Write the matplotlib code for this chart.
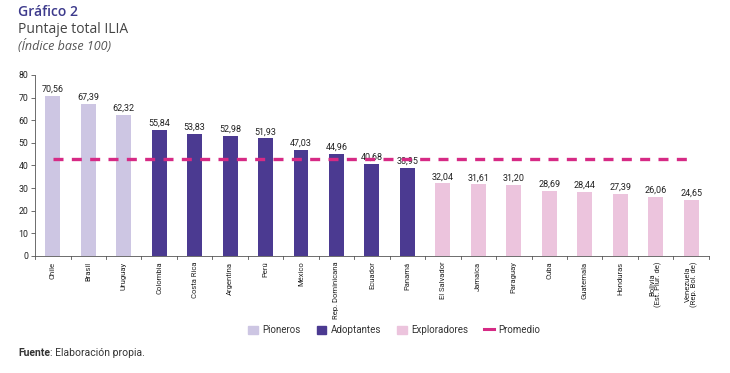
import matplotlib
matplotlib.use("Agg")
import matplotlib.pyplot as plt
from matplotlib.patches import Patch
from matplotlib.lines import Line2D

countries = ["Chile", "Brasil", "Uruguay", "Colombia", "Costa Rica", "Argentina", "Perú",
             "México", "Rep. Dominicana", "Ecuador", "Panamá", "El Salvador", "Jamaica",
             "Paraguay", "Cuba", "Guatemala", "Honduras", "Bolivia\n(Est. Plur. de)",
             "Venezuela\n(Rep. Bol. de)"]
scores = [70.56, 67.39, 62.32, 55.84, 53.83, 52.98, 51.93, 47.03, 44.96, 40.68, 38.95,
          32.04, 31.61, 31.20, 28.69, 28.44, 27.39, 26.06, 24.65]
groups = ["Pioneros"] * 3 + ["Adoptantes"] * 8 + ["Exploradores"] * 8
promedio = 42.98
yticks = [0, 10, 20, 30, 40, 50, 60, 70, 80]

group_colors = {"Pioneros": "#cdc6e3", "Adoptantes": "#4b3a91", "Exploradores": "#ecc4dd"}
line_color = "#d62a85"
cond = ["Roboto", "DejaVu Sans"]

fig = plt.figure(figsize=(7.3, 3.73), dpi=100)
ax = fig.add_axes([0.048, 0.3137, 0.923, 0.4853])

x = list(range(len(countries)))
colors = [group_colors[g] for g in groups]
ax.bar(x, scores, width=0.42, color=colors, zorder=2)
for xi, v in zip(x, scores):
    ax.text(xi, v + 1.0, f"{v:.2f}".replace(".", ","), ha="center", va="bottom",
            fontsize=6.5, family=cond, color="#222222")

ax.plot([x[0], x[-1]], [promedio, promedio], color=line_color, lw=2.4,
        dashes=(3, 2.5), zorder=3)

ax.set_xlim(-0.5, len(countries) - 0.5)
ax.set_ylim(0, 80)
ax.set_yticks(yticks)
ax.set_yticklabels([str(t) for t in yticks], fontsize=6.3, family=cond, color="#222222")
ax.tick_params(axis="y", length=3, width=0.6, color="#555555", pad=2)

ax.set_xticks(x)
ax.set_xticklabels(countries, rotation=90, fontsize=5.5, family=cond, color="#222222",
                   va="top", ha="center", linespacing=0.9)
ax.tick_params(axis="x", length=0, pad=4)
for b in [i - 0.5 for i in range(len(countries) + 1)]:
    ax.plot([b, b], [0, -1.3], color="#555555", lw=0.6, clip_on=False, zorder=1)

for s in ["top", "right"]:
    ax.spines[s].set_visible(False)
for s in ["left", "bottom"]:
    ax.spines[s].set_color("#555555")
    ax.spines[s].set_linewidth(0.6)

handles = [Patch(color=group_colors["Pioneros"], label="Pioneros"),
           Patch(color=group_colors["Adoptantes"], label="Adoptantes"),
           Patch(color=group_colors["Exploradores"], label="Exploradores"),
           Line2D([0], [0], color=line_color, lw=2.2, label="Promedio")]
leg = fig.legend(handles=handles, loc="center", bbox_to_anchor=(0.54, 0.115), ncol=4,
                 frameon=False, prop={"family": cond, "size": 7},
                 handlelength=1.0, handleheight=0.9, columnspacing=1.7, handletextpad=0.4)
for t in leg.get_texts():
    t.set_color("#333333")

fig.text(0.025, 0.967, "Gráfico 2", fontsize=10, color="#3d3a8c", family=["Open Sans", "DejaVu Sans"],
         fontweight="semibold", va="center")
fig.text(0.025, 0.922, "Puntaje total ILIA", fontsize=10, color="#444444",
         family=["Open Sans", "DejaVu Sans"], va="center")
fig.text(0.025, 0.878, "(Índice base 100)", fontsize=9, color="#555555", style="italic",
         family=["Open Sans", "DejaVu Sans"], va="center")

t1 = fig.text(0.025, 0.054, "Fuente", fontsize=7.5, color="#333333", fontweight="bold",
              family=cond, va="center")
fig.canvas.draw()
bb = t1.get_window_extent(renderer=fig.canvas.get_renderer())
x_end = bb.x1 / fig.bbox.width
fig.text(x_end, 0.054, ": Elaboración propia.", fontsize=7.5, color="#333333",
         family=cond, va="center")

fig.savefig("out.png", dpi=100)
